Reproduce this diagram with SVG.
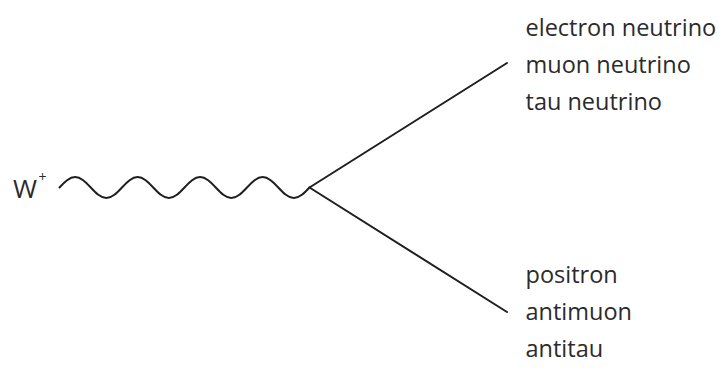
<svg xmlns="http://www.w3.org/2000/svg" width="727" height="370" viewBox="0 0 727 370">
<style>
.lbl{font-family:"Open Sans","DejaVu Sans",sans-serif;font-size:23.5px;fill:#2b2b2b}
.ln{fill:none;stroke:#1e1e1e;stroke-width:2;stroke-linecap:round;stroke-linejoin:round}
</style>
<rect width="727" height="370" fill="#ffffff"/>
<g id="w-boson">
<text class="lbl" x="13" y="198" style="font-size:26px">W</text>
<text class="lbl" x="38.5" y="182" style="font-size:14px">+</text>
</g>
<g id="neutrinos">
<text class="lbl" x="525.5" y="35.5">electron neutrino</text>
<text class="lbl" x="525.5" y="72.5">muon neutrino</text>
<text class="lbl" x="525.5" y="109.5">tau neutrino</text>
</g>
<g id="antileptons">
<text class="lbl" x="525.5" y="283">positron</text>
<text class="lbl" x="525.5" y="320">antimuon</text>
<text class="lbl" x="525.5" y="357">antitau</text>
</g>
<g id="connectors">
<path class="ln" d="M59.5,187.5 c5.095,-5.379 9.995,-10.5 15.625,-10.5 s10.53,5.121 15.625,10.5 s9.995,10.5 15.625,10.5 s10.53,-5.121 15.625,-10.5 s9.995,-10.5 15.625,-10.5 s10.53,5.121 15.625,10.5 s9.995,10.5 15.625,10.5 s10.53,-5.121 15.625,-10.5 s9.995,-10.5 15.625,-10.5 s10.53,5.121 15.625,10.5 s9.995,10.5 15.625,10.5 s10.53,-5.121 15.625,-10.5 s9.995,-10.5 15.625,-10.5 s10.53,5.121 15.625,10.5 s9.995,10.5 15.625,10.5 s10.53,-5.121 15.625,-10.5"/>
<line class="ln" x1="309.5" y1="187.5" x2="507" y2="63"/>
<line class="ln" x1="309.5" y1="187.5" x2="507" y2="312"/>
</g>
</svg>
